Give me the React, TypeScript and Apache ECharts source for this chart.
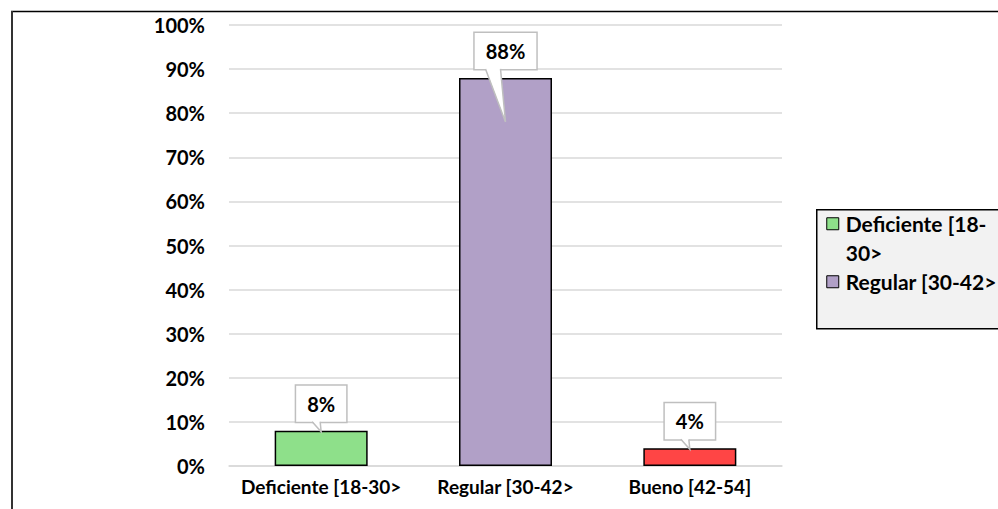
import React, { useEffect, useRef } from "react";
import * as echarts from "echarts";

const categories = ["Deficiente [18-30>", "Regular [30-42>", "Bueno [42-54]"];
const values = [0.08, 0.88, 0.04];
const barColors = ["#8ee08a", "#b1a0c7", "#ff4545"];
const yTicks = [0, 0.1, 0.2, 0.3, 0.4, 0.5, 0.6, 0.7, 0.8, 0.9, 1];
const legendLabels = ["Deficiente [18-\n30>", "Regular [30-42>"];

// callout pointer styling (offsets relative to bar centre / bar top)
const calloutPointer = [
  { baseL: -9, baseR: -1, depth: 1 },
  { baseL: -20, baseR: -5, depth: 44 },
  { baseL: -9, baseR: -1, depth: 1 },
];

const FONT = "Lato";

export default function App() {
  const ref = useRef<HTMLDivElement>(null);
  useEffect(() => {
    if (!ref.current) return;
    const chart = echarts.init(ref.current, undefined, { renderer: "svg" });
    const barSeries = categories.map((name, i) => ({
      type: "bar",
      name,
      data: categories.map((_, j) => (j === i ? values[i] : null)),
      barWidth: 93,
      barGap: "-100%",
      itemStyle: { color: barColors[i], borderColor: "#000", borderWidth: 1.5 },
      z: 2,
    }));
    const calloutSeries = {
      type: "custom",
      name: "callouts",
      z: 5,
      data: values.map((v, i) => [i, v]),
      renderItem: (params: any, api: any) => {
        const i = api.value(0);
        const v = api.value(1);
        const [cx, top] = api.coord([i, v]);
        const p = calloutPointer[i];
        const bb = top - 9;
        const tip = top + p.depth;
        return {
          type: "group",
          children: [
            {
              type: "text",
              style: {
                x: cx,
                y: bb,
                text: Math.round(v * 100) + "%",
                align: "center",
                verticalAlign: "bottom",
                font: `bold 20px ${FONT}`,
                fill: "#000",
                backgroundColor: "#fff",
                borderColor: "#bfbfbf",
                borderWidth: 1.5,
                padding: [8, 11, 8, 11],
              },
            },
            {
              type: "polygon",
              shape: { points: [[cx + p.baseL, bb - 1], [cx, tip], [cx + p.baseR, bb - 1]] },
              style: { fill: "#fff", stroke: "none" },
            },
            {
              type: "polyline",
              shape: { points: [[cx + p.baseL, bb], [cx, tip], [cx + p.baseR, bb]] },
              style: { stroke: "#bfbfbf", lineWidth: 1.5, fill: "none" },
            },
          ],
        };
      },
    };

    const legendChildren: any[] = [
      {
        type: "rect",
        shape: { x: 0, y: 0, width: 320, height: 119 },
        style: { fill: "#f2f2f2", stroke: "#000", lineWidth: 1.5 },
      },
    ];
    const legendRows = [14, 72];
    legendLabels.forEach((label, i) => {
      legendChildren.push({
        type: "rect",
        shape: { x: 10, y: legendRows[i] - 6, width: 12, height: 12 },
        style: { fill: barColors[i], stroke: "#000", lineWidth: 1 },
      });
      legendChildren.push({
        type: "text",
        x: 29,
        y: legendRows[i] - 14.5,
        style: {
          text: label,
          font: `bold 21px ${FONT}`,
          fill: "#000",
          verticalAlign: "top",
          lineHeight: 29,
        },
      });
    });

    chart.setOption({
      animation: false,
      textStyle: { fontFamily: FONT },
      grid: { left: 229, right: 216, top: 25, bottom: 43 },
      xAxis: {
        type: "category",
        data: categories,
        axisLine: { show: true, lineStyle: { color: "#d9d9d9", width: 1.5 } },
        axisTick: { show: false },
        axisLabel: { color: "#000", fontWeight: "bold", fontSize: 19, fontFamily: FONT, margin: 11, interval: 0 },
      },
      yAxis: {
        type: "value",
        min: yTicks[0],
        max: yTicks[yTicks.length - 1],
        interval: 0.1,
        axisLine: { show: false },
        axisTick: { show: false },
        splitLine: { lineStyle: { color: "#d9d9d9", width: 1.5 } },
        axisLabel: {
          color: "#000",
          fontWeight: "bold",
          fontSize: 20,
          fontFamily: FONT,
          margin: 24,
          formatter: (v: number) => Math.round(v * 100) + "%",
        },
      },
      series: [...barSeries, calloutSeries],
      graphic: [
        {
          type: "line",
          shape: { x1: 11, y1: 11.5, x2: 1000, y2: 11.5 },
          style: { stroke: "#000", lineWidth: 1.5 },
          silent: true,
        },
        {
          type: "line",
          shape: { x1: 12, y1: 11, x2: 12, y2: 520 },
          style: { stroke: "#333", lineWidth: 2 },
          silent: true,
        },
        {
          type: "group",
          left: 816,
          top: 209,
          children: legendChildren,
        },
      ],
    });
    return () => chart.dispose();
  }, []);
  return (
    <div
      ref={ref}
      style={{ position: "fixed", left: 0, top: 0, width: 998, height: 509, background: "#fff" }}
    />
  );
}
